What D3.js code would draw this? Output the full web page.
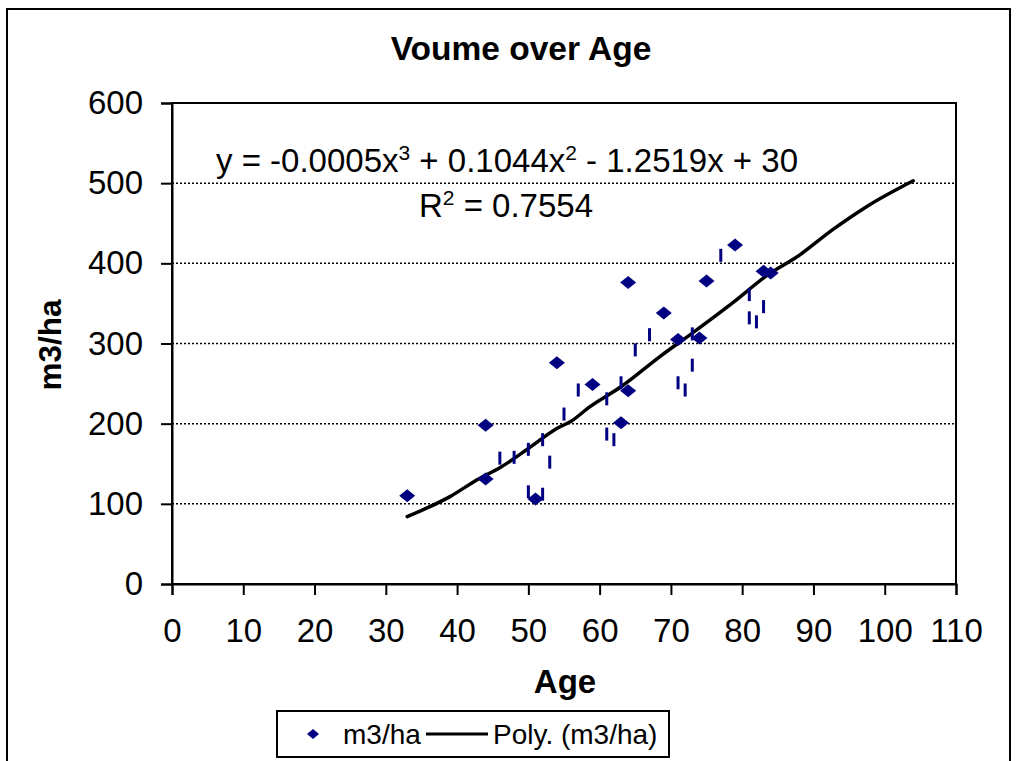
<!DOCTYPE html>
<html>
<head>
<meta charset="utf-8">
<script src="https://cdn.jsdelivr.net/npm/d3@7"></script>
<style>
  body { margin: 0; background: #fff; }
  svg { display: block; font-family: "Liberation Sans", Arial, sans-serif; }
</style>
</head>
<body>
<svg id="chart" width="1017" height="761"></svg>
<script>
// volume measurements (diamond markers)
const ages = [33, 44, 44, 51, 54, 59, 63, 64, 64, 69, 71, 74, 75, 79, 83, 84]
const volumes = [110, 198, 131, 106, 276, 249, 201, 376, 241, 338, 305, 307, 378, 423, 390, 388]

// the same series, markers drawn as thin ticks in the picture
const tickAges = [46, 48, 50, 50, 52, 52, 53, 55, 57, 61, 61, 62, 63, 65, 67, 71, 72, 73, 73, 77, 81, 81, 82, 83]
const tickVolumes = [157, 158, 168, 115, 180, 112, 152, 212, 242, 231, 187, 180, 251, 292, 311, 251, 242, 273, 312, 410, 361, 332, 327, 346]

// polynomial trend line
const trendAges = [33, 39, 43, 46, 50, 54, 56, 58.6, 63, 68.5, 73, 78.7, 83.5, 88, 92.7, 97.5, 104]
const trendVolumes = [84, 109, 131, 145, 169, 194, 203, 221, 246, 284, 313, 351, 385, 410, 442, 471, 503]

const xTicks = [0, 10, 20, 30, 40, 50, 60, 70, 80, 90, 100, 110]
const yTicks = [0, 100, 200, 300, 400, 500, 600]

const title = 'Voume over Age'
const xTitle = 'Age'
const yTitle = 'm3/ha'
const seriesName = 'm3/ha'
const trendName = 'Poly. (m3/ha)'

const navy = '#000080'
const svg = d3.select('#chart')

// outer chart border
svg.append('rect')
  .attr('x', 7).attr('y', 9)
  .attr('width', 1003).attr('height', 800)
  .attr('fill', 'none').attr('stroke', '#000').attr('stroke-width', 2)

const plot = {left: 172, top: 103, right: 956, bottom: 584}

const x = d3.scaleLinear().domain([0, 110]).range([plot.left, plot.right])
const y = d3.scaleLinear().domain([0, 600]).range([plot.bottom, plot.top])

// title
svg.append('text')
  .attr('x', 521).attr('y', 60)
  .attr('text-anchor', 'middle')
  .attr('font-size', 33.5).attr('font-weight', 'bold')
  .text(title)

// gridlines
svg.append('g')
  .selectAll('line')
  .data(yTicks.filter(t => t > 0 && t < 600))
  .join('line')
    .attr('x1', plot.left).attr('x2', plot.right)
    .attr('y1', d => y(d)).attr('y2', d => y(d))
    .attr('stroke', '#000').attr('stroke-width', 1.5)
    .attr('stroke-dasharray', '2,2')

// plot border
svg.append('rect')
  .attr('x', plot.left).attr('y', plot.top)
  .attr('width', plot.right - plot.left).attr('height', plot.bottom - plot.top)
  .attr('fill', 'none').attr('stroke', '#000').attr('stroke-width', 2)

// axes
const xAxis = svg.append('g')
  .attr('transform', `translate(0,${plot.bottom})`)
  .call(d3.axisBottom(x).tickValues(xTicks).tickSize(11).tickPadding(24))
const yAxis = svg.append('g')
  .attr('transform', `translate(${plot.left},0)`)
  .call(d3.axisLeft(y).tickValues(yTicks).tickSize(11).tickPadding(18))

;[xAxis, yAxis].forEach(a => {
  a.select('.domain').attr('stroke', '#000').attr('stroke-width', 2)
  a.selectAll('.tick line').attr('stroke', '#000').attr('stroke-width', 2)
  a.selectAll('.tick text')
    .attr('font-family', '"Liberation Sans", Arial, sans-serif')
    .attr('font-size', 33).attr('fill', '#000')
})

// axis titles
svg.append('text')
  .attr('x', 565).attr('y', 693)
  .attr('text-anchor', 'middle')
  .attr('font-size', 33).attr('font-weight', 'bold')
  .text(xTitle)

svg.append('text')
  .attr('transform', 'translate(61,345) rotate(-90)')
  .attr('text-anchor', 'middle')
  .attr('font-size', 31.5).attr('font-weight', 'bold')
  .text(yTitle)

// trend line
const trend = trendAges.map((a, i) => [a, trendVolumes[i]])
svg.append('path')
  .datum(trend)
  .attr('fill', 'none')
  .attr('stroke', '#000')
  .attr('stroke-width', 3.5)
  .attr('stroke-linejoin', 'round')
  .attr('stroke-linecap', 'round')
  .attr('d', d3.line().x(d => x(d[0])).y(d => y(d[1])).curve(d3.curveMonotoneX))

// thin tick markers
svg.append('g')
  .selectAll('rect')
  .data(tickAges.map((a, i) => [a, tickVolumes[i]]))
  .join('rect')
    .attr('x', d => x(d[0]) - 1.5)
    .attr('y', d => y(d[1]) - 6.5)
    .attr('width', 3).attr('height', 13)
    .attr('fill', navy)

// diamond markers
const diamond = 'M0,-6.5L8,0L0,6.5L-8,0Z'
svg.append('g')
  .selectAll('path')
  .data(ages.map((a, i) => [a, volumes[i]]))
  .join('path')
    .attr('transform', d => `translate(${x(d[0])},${y(d[1])})`)
    .attr('d', diamond)
    .attr('fill', navy)

// equation labels
const eq = svg.append('text')
  .attr('x', 507).attr('y', 172)
  .attr('text-anchor', 'middle')
  .attr('font-size', 33)
eq.append('tspan').text('y = -0.0005x')
eq.append('tspan').attr('font-size', 21).attr('dy', -12).text('3')
eq.append('tspan').attr('dy', 12).text(' + 0.1044x')
eq.append('tspan').attr('font-size', 21).attr('dy', -12).text('2')
eq.append('tspan').attr('dy', 12).text(' - 1.2519x + 30')

const r2 = svg.append('text')
  .attr('x', 506).attr('y', 217)
  .attr('text-anchor', 'middle')
  .attr('font-size', 33)
r2.append('tspan').text('R')
r2.append('tspan').attr('font-size', 21).attr('dy', -12).text('2')
r2.append('tspan').attr('dy', 12).text(' = 0.7554')

// legend
const legend = svg.append('g')
legend.append('rect')
  .attr('x', 277).attr('y', 711)
  .attr('width', 392).attr('height', 46)
  .attr('fill', '#fff').attr('stroke', '#000').attr('stroke-width', 2)
legend.append('path')
  .attr('transform', 'translate(313,734)')
  .attr('d', 'M0,-5L6,0L0,5L-6,0Z')
  .attr('fill', navy)
legend.append('text')
  .attr('x', 343).attr('y', 744)
  .attr('font-size', 28)
  .text(seriesName)
legend.append('line')
  .attr('x1', 426).attr('x2', 488)
  .attr('y1', 734).attr('y2', 734)
  .attr('stroke', '#000').attr('stroke-width', 3)
legend.append('text')
  .attr('x', 493).attr('y', 744)
  .attr('font-size', 28)
  .text(trendName)
</script>
</body>
</html>
